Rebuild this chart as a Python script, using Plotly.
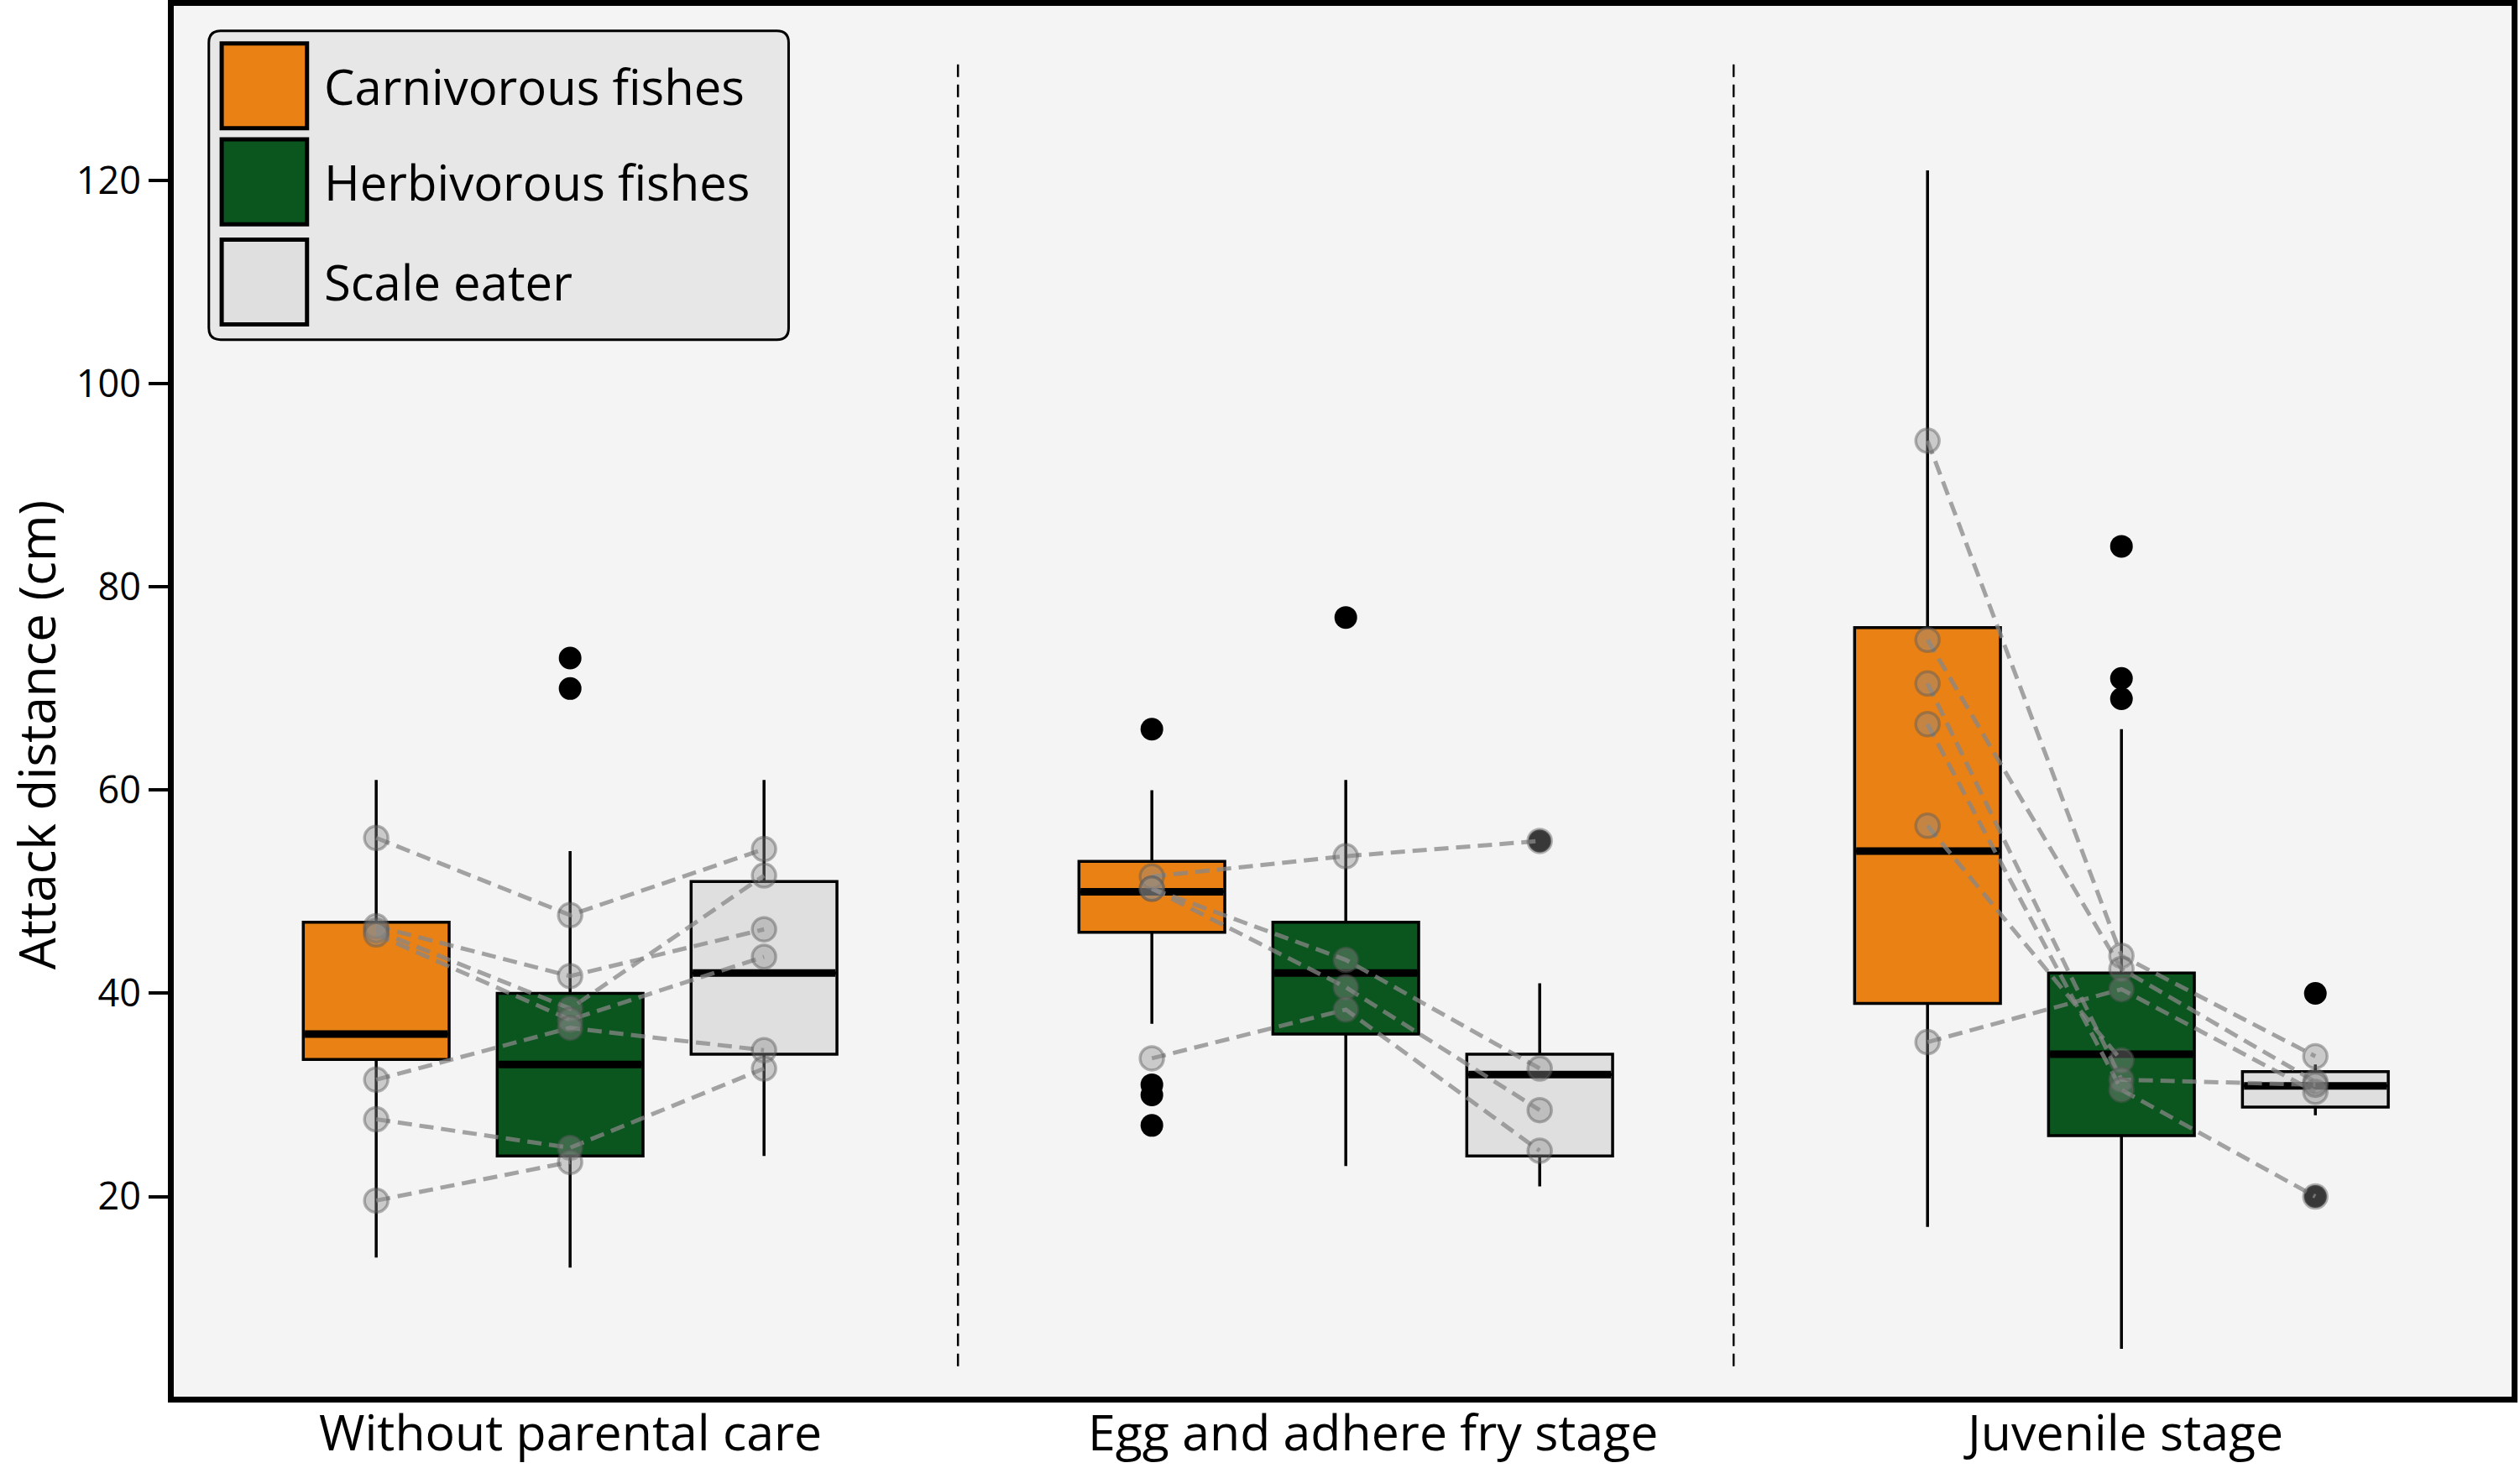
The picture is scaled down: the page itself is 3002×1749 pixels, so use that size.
import plotly.graph_objects as go

# categories
stages = ["Without parental care", "Egg and adhere fry stage", "Juvenile stage"]
groups = ["Carnivorous fishes", "Herbivorous fishes", "Scale eater"]

# box statistics per stage
carn_lo = [14, 37, 17]
carn_q1 = [33.5, 46, 39]
carn_med = [36, 50, 54]
carn_q3 = [47, 53, 76]
carn_hi = [61, 60, 121]

herb_lo = [13, 23, 5]
herb_q1 = [24, 36, 26]
herb_med = [33, 42, 34]
herb_q3 = [40, 47, 42]
herb_hi = [54, 61, 66]

scale_lo = [24, 21, 28]
scale_q1 = [34, 24, 28.8]
scale_med = [42, 32, 30.9]
scale_q3 = [51, 34, 32.3]
scale_hi = [61, 41, 33]

# outliers per stage
carn_out = [[], [66, 31, 30, 27], []]
herb_out = [[73, 70], [77], [84, 71, 69]]
scale_out = [[], [55], [40, 20]]

# paired values (carnivorous, herbivorous, scale eater) per stage
pairs_without = [(55.3, 47.7, 54.2), (46.6, 41.7, 46.3), (46.2, 38.5, 51.6),
                 (45.8, 37.4, 43.6), (31.5, 36.6, 34.4), (27.6, 24.8, 32.6),
                 (19.6, 23.4, None)]
pairs_egg = [(51.5, 53.5, 55.0), (50.3, 43.3, 32.6), (50.3, 40.6, 28.5),
             (33.6, 38.4, 24.5)]
pairs_juv = [(94.4, 43.7, 33.8), (74.8, 42.4, 31.3), (35.2, 40.4, 30.3),
             (56.5, 33.4, None), (70.5, 31.5, 31.0), (66.5, 30.5, 20.0)]

colors = ["#e98115", "#0a561e", "#e0dfe0"]
offsets = [-0.25, 0, 0.25]
label_shift = [0, 0.035, 0.003]
box_w = 0.188
FONT = "Open Sans"

stats = [
    (carn_lo, carn_q1, carn_med, carn_q3, carn_hi, carn_out),
    (herb_lo, herb_q1, herb_med, herb_q3, herb_hi, herb_out),
    (scale_lo, scale_q1, scale_med, scale_q3, scale_hi, scale_out),
]
all_pairs = [pairs_without, pairs_egg, pairs_juv]

fig = go.Figure()

# boxes
for g, (lo, q1, med, q3, hi, out) in enumerate(stats):
    xs = [i + 1 + offsets[g] for i in range(len(stages))]
    fig.add_trace(go.Box(
        x=xs, lowerfence=lo, q1=q1, median=med, q3=q3, upperfence=hi,
        fillcolor=colors[g], line=dict(color="black", width=3.5),
        width=box_w, whiskerwidth=0, boxpoints=False, showlegend=False,
        name=groups[g]
    ))

# thick medians
for g, (lo, q1, med, q3, hi, out) in enumerate(stats):
    mx, my = [], []
    for i in range(len(stages)):
        c = i + 1 + offsets[g]
        mx += [c - box_w / 2 + 0.002, c + box_w / 2 - 0.002, None]
        my += [med[i], med[i], None]
    fig.add_trace(go.Scatter(x=mx, y=my, mode="lines",
                             line=dict(color="black", width=9),
                             showlegend=False, hoverinfo="skip"))

# outliers
for g, (lo, q1, med, q3, hi, out) in enumerate(stats):
    ox, oy = [], []
    for i in range(len(stages)):
        for v in out[i]:
            ox.append(i + 1 + offsets[g])
            oy.append(v)
    fig.add_trace(go.Scatter(x=ox, y=oy, mode="markers",
                             marker=dict(color="black", size=27),
                             showlegend=False))

# paired dashed lines and points
for i, pairs in enumerate(all_pairs):
    for p in pairs:
        px = [i + 1 + offsets[g] for g in range(3) if p[g] is not None]
        py = [v for v in p if v is not None]
        fig.add_trace(go.Scatter(
            x=px, y=py, mode="lines",
            line=dict(color="rgba(135,135,135,0.75)", width=5, dash="17px,9px"),
            showlegend=False, hoverinfo="skip"))
for i, pairs in enumerate(all_pairs):
    px, py = [], []
    for p in pairs:
        for g in range(3):
            if p[g] is not None:
                px.append(i + 1 + offsets[g])
                py.append(p[g])
    fig.add_trace(go.Scatter(
        x=px, y=py, mode="markers",
        marker=dict(color="rgba(140,140,140,0.4)", size=28,
                    line=dict(color="rgba(90,90,90,0.45)", width=3.5)),
        showlegend=False))

# dashed separators between stages
shapes = []
for i in range(len(stages) - 1):
    shapes.append(dict(type="line", xref="x", yref="y", x0=i + 1.5, x1=i + 1.5,
                       y0=3.3, y1=132,
                       line=dict(color="black", width=2.5, dash="15px,9px")))

# legend drawn by hand (big square keys)
lx0, lx1, ly0, ly1 = 0.015, 0.263, 0.760, 0.982
rx, ry = 14 / 2785, 14 / 1657
path = (f"M {lx0 + rx} {ly0} L {lx1 - rx} {ly0} Q {lx1} {ly0} {lx1} {ly0 + ry} "
        f"L {lx1} {ly1 - ry} Q {lx1} {ly1} {lx1 - rx} {ly1} "
        f"L {lx0 + rx} {ly1} Q {lx0} {ly1} {lx0} {ly1 - ry} "
        f"L {lx0} {ly0 + ry} Q {lx0} {ly0} {lx0 + rx} {ly0} Z")
shapes.append(dict(type="path", xref="paper", yref="paper", path=path,
                   fillcolor="#e8e7e8", line=dict(color="black", width=3)))
annotations = []
key_tops = [0.973, 0.904, 0.832]
key_h = 0.061
for g in range(3):
    shapes.append(dict(type="rect", xref="paper", yref="paper",
                       x0=0.0205, x1=0.057, y0=key_tops[g] - key_h, y1=key_tops[g],
                       fillcolor=colors[g], line=dict(color="black", width=5)))
    annotations.append(dict(xref="paper", yref="paper", x=0.0635,
                            y=key_tops[g] - key_h / 2, text=groups[g],
                            showarrow=False, xanchor="left", yanchor="middle",
                            font=dict(family=FONT, size=58, color="black")))

# stage labels under the axis
for i, s in enumerate(stages):
    annotations.append(dict(xref="x", yref="paper", x=i + 1 + label_shift[i],
                            y=-0.0245, text=s, showarrow=False,
                            xanchor="center", yanchor="middle",
                            font=dict(family=FONT, size=59, color="black")))

# y axis title placed like the original (slightly below centre)
annotations.append(dict(xref="paper", yref="paper", x=-0.0743, y=0.476,
                        text="Attack distance (cm)", textangle=-90,
                        showarrow=False, xanchor="left", yanchor="middle",
                        font=dict(family=FONT, size=60, color="black")))

fig.update_layout(
    width=3002, height=1749,
    margin=dict(l=207, r=10, t=7, b=85),
    paper_bgcolor="white", plot_bgcolor="#f4f4f4",
    font=dict(family=FONT, color="black"),
    shapes=shapes, annotations=annotations,
    showlegend=False,
    xaxis=dict(range=[0.489, 3.503], tickvals=[1, 2, 3], showticklabels=False,
               showgrid=False, zeroline=False, showline=True, linecolor="black",
               linewidth=7, mirror=True, ticks="", automargin=False),
    yaxis=dict(range=[0.3, 137.2], tickvals=[20, 40, 60, 80, 100, 120],
               showgrid=False, zeroline=False, showline=True, linecolor="black",
               linewidth=7, mirror=True, ticks="outside", ticklen=23,
               tickwidth=4, tickcolor="black", automargin=False,
               tickfont=dict(family=FONT, size=45, color="black")),
)

# drop the default page margin so the figure sits at the window corner
fig.write_html("out.html", config={"displayModeBar": False},
               post_script="document.body.style.margin='0px';")
